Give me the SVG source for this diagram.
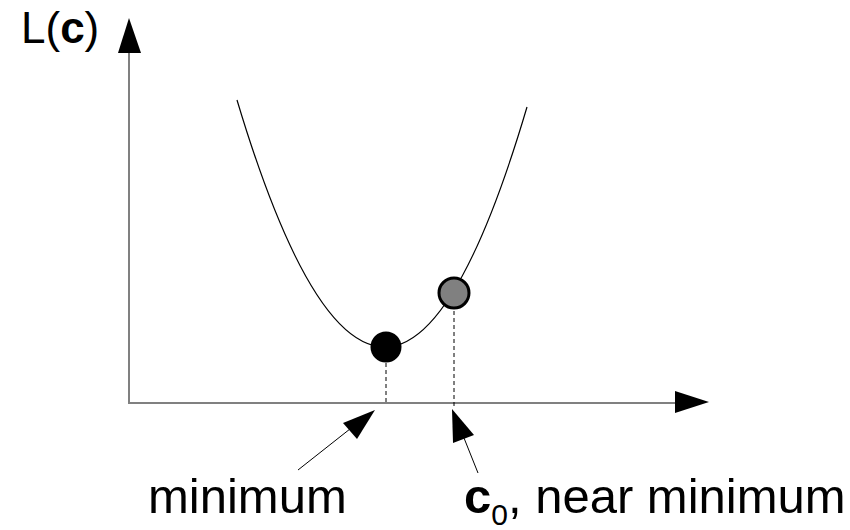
<svg xmlns="http://www.w3.org/2000/svg" width="850" height="530" viewBox="0 0 850 530">
<style>
.t{font-family:"Liberation Sans",Arial,sans-serif;fill:#000}
.axis{stroke:#808080;stroke-width:2;fill:none}
.dash{stroke:#000;stroke-width:1;stroke-dasharray:4 3;fill:none}
.ptr{stroke:#000;stroke-width:1;fill:none}
.head{fill:#000;stroke:none}
</style>
<rect width="850" height="530" fill="#fff"/>
<g id="axes">
<line class="axis" x1="129" y1="50" x2="129" y2="403"/>
<line class="axis" x1="128" y1="403" x2="677" y2="403"/>
<polygon class="head" points="129,18 118,53 141,53"/>
<polygon class="head" points="709,402 675,391 675,413"/>
</g>
<g id="curve">
<path d="M237,100 Q311,347 385,347 Q456,347 527,107" fill="none" stroke="#000" stroke-width="1.2"/>
</g>
<g id="connectors">
<line class="dash" x1="386" y1="363" x2="386" y2="403"/>
<line class="dash" x1="454" y1="311" x2="454" y2="408"/>
<line class="ptr" x1="298" y1="470" x2="355" y2="425"/>
<polygon class="head" points="375,410 343,423 357,439"/>
<line class="ptr" x1="478" y1="473" x2="462" y2="433"/>
<polygon class="head" points="452,409 453,443 474,435"/>
</g>
<g id="minimum-point">
<circle cx="386" cy="347" r="15.5" fill="#000"/>
</g>
<g id="c0-point">
<circle cx="454" cy="293" r="15" fill="#808080" stroke="#000" stroke-width="3"/>
</g>
<g id="label-L">
<text class="t" x="21" y="43" font-size="44">L(<tspan font-weight="bold">c</tspan>)</text>
</g>
<g id="label-minimum">
<text class="t" x="148" y="513" font-size="49">minimum</text>
</g>
<g id="label-c0">
<text class="t" x="464" y="513" font-size="49"><tspan font-weight="bold">c</tspan><tspan font-size="30" dy="12">0</tspan><tspan dy="-12">, near minimum</tspan></text>
</g>
</svg>
